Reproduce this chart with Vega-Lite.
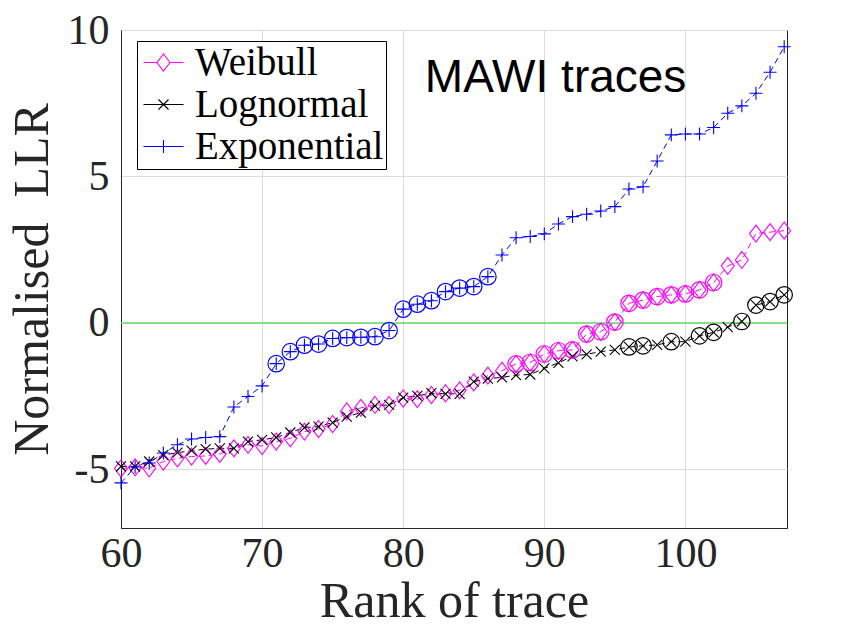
{
  "$schema": "https://vega.github.io/schema/vega-lite/v6.json",
  "width": 666,
  "height": 498,
  "autosize": {"type": "none"},
  "padding": {"left": 121, "top": 30, "right": 69, "bottom": 99},
  "background": "white",
  "config": {
    "view": {"stroke": "#262626", "strokeWidth": 1},
    "axis": {
      "labelFont": "Liberation Serif",
      "labelFontSize": 42,
      "labelColor": "#262626",
      "labelFlush": false,
      "titleFont": "Liberation Serif",
      "titleFontSize": 50,
      "titleFontWeight": "normal",
      "titleColor": "#262626",
      "domainColor": "#262626",
      "gridColor": "#dcdcdc",
      "gridWidth": 1,
      "ticks": false
    },
    "legend": {
      "orient": "none", "legendX": 16, "legendY": 11, "title": null,
      "labelFont": "Liberation Serif", "labelFontSize": 39, "labelColor": "#000000",
      "labelLimit": 400, "labelOffset": 12,
      "symbolSize": 400, "symbolStrokeWidth": 1.1, "symbolOffset": 5,
      "strokeColor": "#000000", "fillColor": "#ffffff",
      "padding": 2, "rowPadding": 2
    }
  },
  "resolve": {"scale": {"color": "independent", "shape": "independent"}},
  "data": {
    "values": [
      {"rank": 60, "model": "Weibull", "llr": -4.97, "sig": 0},
      {"rank": 61, "model": "Weibull", "llr": -4.93, "sig": 0},
      {"rank": 62, "model": "Weibull", "llr": -4.96, "sig": 0},
      {"rank": 63, "model": "Weibull", "llr": -4.73, "sig": 0},
      {"rank": 64, "model": "Weibull", "llr": -4.62, "sig": 0},
      {"rank": 65, "model": "Weibull", "llr": -4.56, "sig": 0},
      {"rank": 66, "model": "Weibull", "llr": -4.54, "sig": 0},
      {"rank": 67, "model": "Weibull", "llr": -4.47, "sig": 0},
      {"rank": 68, "model": "Weibull", "llr": -4.28, "sig": 0},
      {"rank": 69, "model": "Weibull", "llr": -4.16, "sig": 0},
      {"rank": 70, "model": "Weibull", "llr": -4.2, "sig": 0},
      {"rank": 71, "model": "Weibull", "llr": -4.05, "sig": 0},
      {"rank": 72, "model": "Weibull", "llr": -3.94, "sig": 0},
      {"rank": 73, "model": "Weibull", "llr": -3.71, "sig": 0},
      {"rank": 74, "model": "Weibull", "llr": -3.62, "sig": 0},
      {"rank": 75, "model": "Weibull", "llr": -3.45, "sig": 0},
      {"rank": 76, "model": "Weibull", "llr": -3.02, "sig": 0},
      {"rank": 77, "model": "Weibull", "llr": -2.9, "sig": 0},
      {"rank": 78, "model": "Weibull", "llr": -2.8, "sig": 0},
      {"rank": 79, "model": "Weibull", "llr": -2.8, "sig": 0},
      {"rank": 80, "model": "Weibull", "llr": -2.58, "sig": 0},
      {"rank": 81, "model": "Weibull", "llr": -2.6, "sig": 0},
      {"rank": 82, "model": "Weibull", "llr": -2.46, "sig": 0},
      {"rank": 83, "model": "Weibull", "llr": -2.4, "sig": 0},
      {"rank": 84, "model": "Weibull", "llr": -2.3, "sig": 0},
      {"rank": 85, "model": "Weibull", "llr": -2.03, "sig": 0},
      {"rank": 86, "model": "Weibull", "llr": -1.8, "sig": 0},
      {"rank": 87, "model": "Weibull", "llr": -1.63, "sig": 0},
      {"rank": 88, "model": "Weibull", "llr": -1.4, "sig": 1},
      {"rank": 89, "model": "Weibull", "llr": -1.35, "sig": 1},
      {"rank": 90, "model": "Weibull", "llr": -1.06, "sig": 1},
      {"rank": 91, "model": "Weibull", "llr": -0.95, "sig": 1},
      {"rank": 92, "model": "Weibull", "llr": -0.92, "sig": 1},
      {"rank": 93, "model": "Weibull", "llr": -0.38, "sig": 1},
      {"rank": 94, "model": "Weibull", "llr": -0.3, "sig": 1},
      {"rank": 95, "model": "Weibull", "llr": 0.03, "sig": 1},
      {"rank": 96, "model": "Weibull", "llr": 0.67, "sig": 1},
      {"rank": 97, "model": "Weibull", "llr": 0.78, "sig": 1},
      {"rank": 98, "model": "Weibull", "llr": 0.9, "sig": 1},
      {"rank": 99, "model": "Weibull", "llr": 0.96, "sig": 1},
      {"rank": 100, "model": "Weibull", "llr": 0.99, "sig": 1},
      {"rank": 101, "model": "Weibull", "llr": 1.13, "sig": 1},
      {"rank": 102, "model": "Weibull", "llr": 1.38, "sig": 1},
      {"rank": 103, "model": "Weibull", "llr": 1.95, "sig": 0},
      {"rank": 104, "model": "Weibull", "llr": 2.15, "sig": 0},
      {"rank": 105, "model": "Weibull", "llr": 3.05, "sig": 0},
      {"rank": 106, "model": "Weibull", "llr": 3.1, "sig": 0},
      {"rank": 107, "model": "Weibull", "llr": 3.15, "sig": 0},

      {"rank": 60, "model": "Lognormal", "llr": -4.9, "sig": 0},
      {"rank": 61, "model": "Lognormal", "llr": -4.9, "sig": 0},
      {"rank": 62, "model": "Lognormal", "llr": -4.73, "sig": 0},
      {"rank": 63, "model": "Lognormal", "llr": -4.51, "sig": 0},
      {"rank": 64, "model": "Lognormal", "llr": -4.43, "sig": 0},
      {"rank": 65, "model": "Lognormal", "llr": -4.36, "sig": 0},
      {"rank": 66, "model": "Lognormal", "llr": -4.31, "sig": 0},
      {"rank": 67, "model": "Lognormal", "llr": -4.28, "sig": 0},
      {"rank": 68, "model": "Lognormal", "llr": -4.28, "sig": 0},
      {"rank": 69, "model": "Lognormal", "llr": -4.05, "sig": 0},
      {"rank": 70, "model": "Lognormal", "llr": -3.99, "sig": 0},
      {"rank": 71, "model": "Lognormal", "llr": -3.91, "sig": 0},
      {"rank": 72, "model": "Lognormal", "llr": -3.74, "sig": 0},
      {"rank": 73, "model": "Lognormal", "llr": -3.57, "sig": 0},
      {"rank": 74, "model": "Lognormal", "llr": -3.54, "sig": 0},
      {"rank": 75, "model": "Lognormal", "llr": -3.4, "sig": 0},
      {"rank": 76, "model": "Lognormal", "llr": -3.2, "sig": 0},
      {"rank": 77, "model": "Lognormal", "llr": -3.06, "sig": 0},
      {"rank": 78, "model": "Lognormal", "llr": -2.83, "sig": 0},
      {"rank": 79, "model": "Lognormal", "llr": -2.8, "sig": 0},
      {"rank": 80, "model": "Lognormal", "llr": -2.55, "sig": 0},
      {"rank": 81, "model": "Lognormal", "llr": -2.49, "sig": 0},
      {"rank": 82, "model": "Lognormal", "llr": -2.4, "sig": 0},
      {"rank": 83, "model": "Lognormal", "llr": -2.42, "sig": 0},
      {"rank": 84, "model": "Lognormal", "llr": -2.42, "sig": 0},
      {"rank": 85, "model": "Lognormal", "llr": -2.0, "sig": 0},
      {"rank": 86, "model": "Lognormal", "llr": -1.9, "sig": 0},
      {"rank": 87, "model": "Lognormal", "llr": -1.86, "sig": 0},
      {"rank": 88, "model": "Lognormal", "llr": -1.78, "sig": 0},
      {"rank": 89, "model": "Lognormal", "llr": -1.76, "sig": 0},
      {"rank": 90, "model": "Lognormal", "llr": -1.55, "sig": 0},
      {"rank": 91, "model": "Lognormal", "llr": -1.36, "sig": 0},
      {"rank": 92, "model": "Lognormal", "llr": -1.14, "sig": 0},
      {"rank": 93, "model": "Lognormal", "llr": -1.07, "sig": 0},
      {"rank": 94, "model": "Lognormal", "llr": -0.98, "sig": 0},
      {"rank": 95, "model": "Lognormal", "llr": -0.92, "sig": 0},
      {"rank": 96, "model": "Lognormal", "llr": -0.82, "sig": 1},
      {"rank": 97, "model": "Lognormal", "llr": -0.78, "sig": 1},
      {"rank": 98, "model": "Lognormal", "llr": -0.75, "sig": 0},
      {"rank": 99, "model": "Lognormal", "llr": -0.64, "sig": 1},
      {"rank": 100, "model": "Lognormal", "llr": -0.64, "sig": 0},
      {"rank": 101, "model": "Lognormal", "llr": -0.44, "sig": 1},
      {"rank": 102, "model": "Lognormal", "llr": -0.32, "sig": 1},
      {"rank": 103, "model": "Lognormal", "llr": -0.14, "sig": 0},
      {"rank": 104, "model": "Lognormal", "llr": 0.05, "sig": 1},
      {"rank": 105, "model": "Lognormal", "llr": 0.61, "sig": 1},
      {"rank": 106, "model": "Lognormal", "llr": 0.73, "sig": 1},
      {"rank": 107, "model": "Lognormal", "llr": 0.96, "sig": 1},

      {"rank": 60, "model": "Exponential", "llr": -5.46, "sig": 0},
      {"rank": 61, "model": "Exponential", "llr": -4.92, "sig": 0},
      {"rank": 62, "model": "Exponential", "llr": -4.78, "sig": 0},
      {"rank": 63, "model": "Exponential", "llr": -4.44, "sig": 0},
      {"rank": 64, "model": "Exponential", "llr": -4.16, "sig": 0},
      {"rank": 65, "model": "Exponential", "llr": -3.96, "sig": 0},
      {"rank": 66, "model": "Exponential", "llr": -3.91, "sig": 0},
      {"rank": 67, "model": "Exponential", "llr": -3.88, "sig": 0},
      {"rank": 68, "model": "Exponential", "llr": -2.87, "sig": 0},
      {"rank": 69, "model": "Exponential", "llr": -2.51, "sig": 0},
      {"rank": 70, "model": "Exponential", "llr": -2.15, "sig": 0},
      {"rank": 71, "model": "Exponential", "llr": -1.39, "sig": 1},
      {"rank": 72, "model": "Exponential", "llr": -0.98, "sig": 1},
      {"rank": 73, "model": "Exponential", "llr": -0.76, "sig": 1},
      {"rank": 74, "model": "Exponential", "llr": -0.72, "sig": 1},
      {"rank": 75, "model": "Exponential", "llr": -0.53, "sig": 1},
      {"rank": 76, "model": "Exponential", "llr": -0.5, "sig": 1},
      {"rank": 77, "model": "Exponential", "llr": -0.49, "sig": 1},
      {"rank": 78, "model": "Exponential", "llr": -0.47, "sig": 1},
      {"rank": 79, "model": "Exponential", "llr": -0.26, "sig": 1},
      {"rank": 80, "model": "Exponential", "llr": 0.47, "sig": 1},
      {"rank": 81, "model": "Exponential", "llr": 0.64, "sig": 1},
      {"rank": 82, "model": "Exponential", "llr": 0.76, "sig": 1},
      {"rank": 83, "model": "Exponential", "llr": 1.07, "sig": 1},
      {"rank": 84, "model": "Exponential", "llr": 1.19, "sig": 1},
      {"rank": 85, "model": "Exponential", "llr": 1.24, "sig": 1},
      {"rank": 86, "model": "Exponential", "llr": 1.58, "sig": 1},
      {"rank": 87, "model": "Exponential", "llr": 2.32, "sig": 0},
      {"rank": 88, "model": "Exponential", "llr": 2.91, "sig": 0},
      {"rank": 89, "model": "Exponential", "llr": 2.95, "sig": 0},
      {"rank": 90, "model": "Exponential", "llr": 3.04, "sig": 0},
      {"rank": 91, "model": "Exponential", "llr": 3.38, "sig": 0},
      {"rank": 92, "model": "Exponential", "llr": 3.63, "sig": 0},
      {"rank": 93, "model": "Exponential", "llr": 3.71, "sig": 0},
      {"rank": 94, "model": "Exponential", "llr": 3.82, "sig": 0},
      {"rank": 95, "model": "Exponential", "llr": 3.97, "sig": 0},
      {"rank": 96, "model": "Exponential", "llr": 4.57, "sig": 0},
      {"rank": 97, "model": "Exponential", "llr": 4.65, "sig": 0},
      {"rank": 98, "model": "Exponential", "llr": 5.53, "sig": 0},
      {"rank": 99, "model": "Exponential", "llr": 6.42, "sig": 0},
      {"rank": 100, "model": "Exponential", "llr": 6.45, "sig": 0},
      {"rank": 101, "model": "Exponential", "llr": 6.45, "sig": 0},
      {"rank": 102, "model": "Exponential", "llr": 6.67, "sig": 0},
      {"rank": 103, "model": "Exponential", "llr": 7.16, "sig": 0},
      {"rank": 104, "model": "Exponential", "llr": 7.41, "sig": 0},
      {"rank": 105, "model": "Exponential", "llr": 7.84, "sig": 0},
      {"rank": 106, "model": "Exponential", "llr": 8.56, "sig": 0},
      {"rank": 107, "model": "Exponential", "llr": 9.43, "sig": 0}
    ]
  },
  "layer": [
    {
      "mark": {"type": "line", "strokeWidth": 1, "strokeDash": [6, 4]},
      "encoding": {
        "x": {
          "field": "rank", "type": "quantitative",
          "scale": {"domain": [60, 107.2], "nice": false, "zero": false},
          "axis": {
            "values": [60, 70, 80, 90, 100],
            "title": "Rank of trace",
            "labelExpr": "'' + datum.value",
            "labelPadding": 5,
            "titlePadding": 2
          }
        },
        "y": {
          "field": "llr", "type": "quantitative",
          "scale": {"domain": [-7, 10], "nice": false, "zero": false},
          "axis": {
            "values": [-5, 0, 5, 10],
            "title": "Normalised\u00a0 LLR",
            "labelExpr": "'' + datum.value",
            "labelPadding": 12,
            "titlePadding": 10
          }
        },
        "color": {
          "field": "model", "type": "nominal",
          "scale": {"domain": ["Weibull", "Lognormal", "Exponential"], "range": ["#ff00ff", "#000000", "#0000ff"]},
          "legend": null
        },
        "detail": {"field": "model"}
      }
    },
    {
      "data": {"values": [{"level": 0}]},
      "mark": {"type": "rule", "color": "#66dd66", "strokeWidth": 1.6},
      "encoding": {"y": {"field": "level", "type": "quantitative"}}
    },
    {
      "mark": {"type": "point", "filled": false, "size": 289, "strokeWidth": 1.1, "opacity": 1},
      "encoding": {
        "x": {"field": "rank", "type": "quantitative"},
        "y": {"field": "llr", "type": "quantitative"},
        "color": {
          "field": "model", "type": "nominal",
          "scale": {"domain": ["Weibull", "Lognormal", "Exponential"], "range": ["#ff00ff", "#000000", "#0000ff"]},
          "legend": null
        },
        "shape": {
          "field": "model", "type": "nominal",
          "scale": {
            "domain": ["Weibull", "Lognormal", "Exponential"],
            "range": ["M0,-1L0.76,0L0,1L-0.76,0Z", "M-0.59,-0.59L0.59,0.59M-0.59,0.59L0.59,-0.59", "M-0.76,0L0.76,0M0,-0.76L0,0.76"]
          },
          "legend": null
        }
      }
    },
    {
      "transform": [{"filter": "datum.sig == 1"}],
      "mark": {"type": "point", "shape": "circle", "filled": false, "size": 272, "strokeWidth": 1.2, "opacity": 1},
      "encoding": {
        "x": {"field": "rank", "type": "quantitative"},
        "y": {"field": "llr", "type": "quantitative"},
        "color": {
          "field": "model", "type": "nominal",
          "scale": {"domain": ["Weibull", "Lognormal", "Exponential"], "range": ["#ff00ff", "#000000", "#0000ff"]},
          "legend": null
        }
      }
    },
    {
      "transform": [{"filter": "datum.rank == 60"}],
      "mark": {"type": "point", "filled": false, "size": 0, "strokeWidth": 1.1, "opacity": 1},
      "encoding": {
        "x": {"field": "rank", "type": "quantitative"},
        "y": {"field": "llr", "type": "quantitative"},
        "color": {
          "field": "model", "type": "nominal",
          "scale": {"domain": ["Weibull", "Lognormal", "Exponential"], "range": ["#ff00ff", "#000000", "#0000ff"]}
        },
        "shape": {
          "field": "model", "type": "nominal",
          "scale": {
            "domain": ["Weibull", "Lognormal", "Exponential"],
            "range": [
              "M-2,0L-0.65,0M0.65,0L2,0M0,-0.85L0.65,0L0,0.85L-0.65,0Z",
              "M-2,0L2,0M-0.5,-0.5L0.5,0.5M-0.5,0.5L0.5,-0.5",
              "M-2,0L2,0M0,-0.65L0,0.65"
            ]
          }
        }
      }
    },
    {
      "data": {"values": [{"label": "MAWI traces", "rx": 90.8, "ry": 7.88}]},
      "mark": {"type": "text", "font": "Liberation Sans", "fontSize": 46, "align": "center", "baseline": "alphabetic", "color": "#000000"},
      "encoding": {
        "x": {"field": "rx", "type": "quantitative"},
        "y": {"field": "ry", "type": "quantitative"},
        "text": {"field": "label"}
      }
    }
  ]
}
